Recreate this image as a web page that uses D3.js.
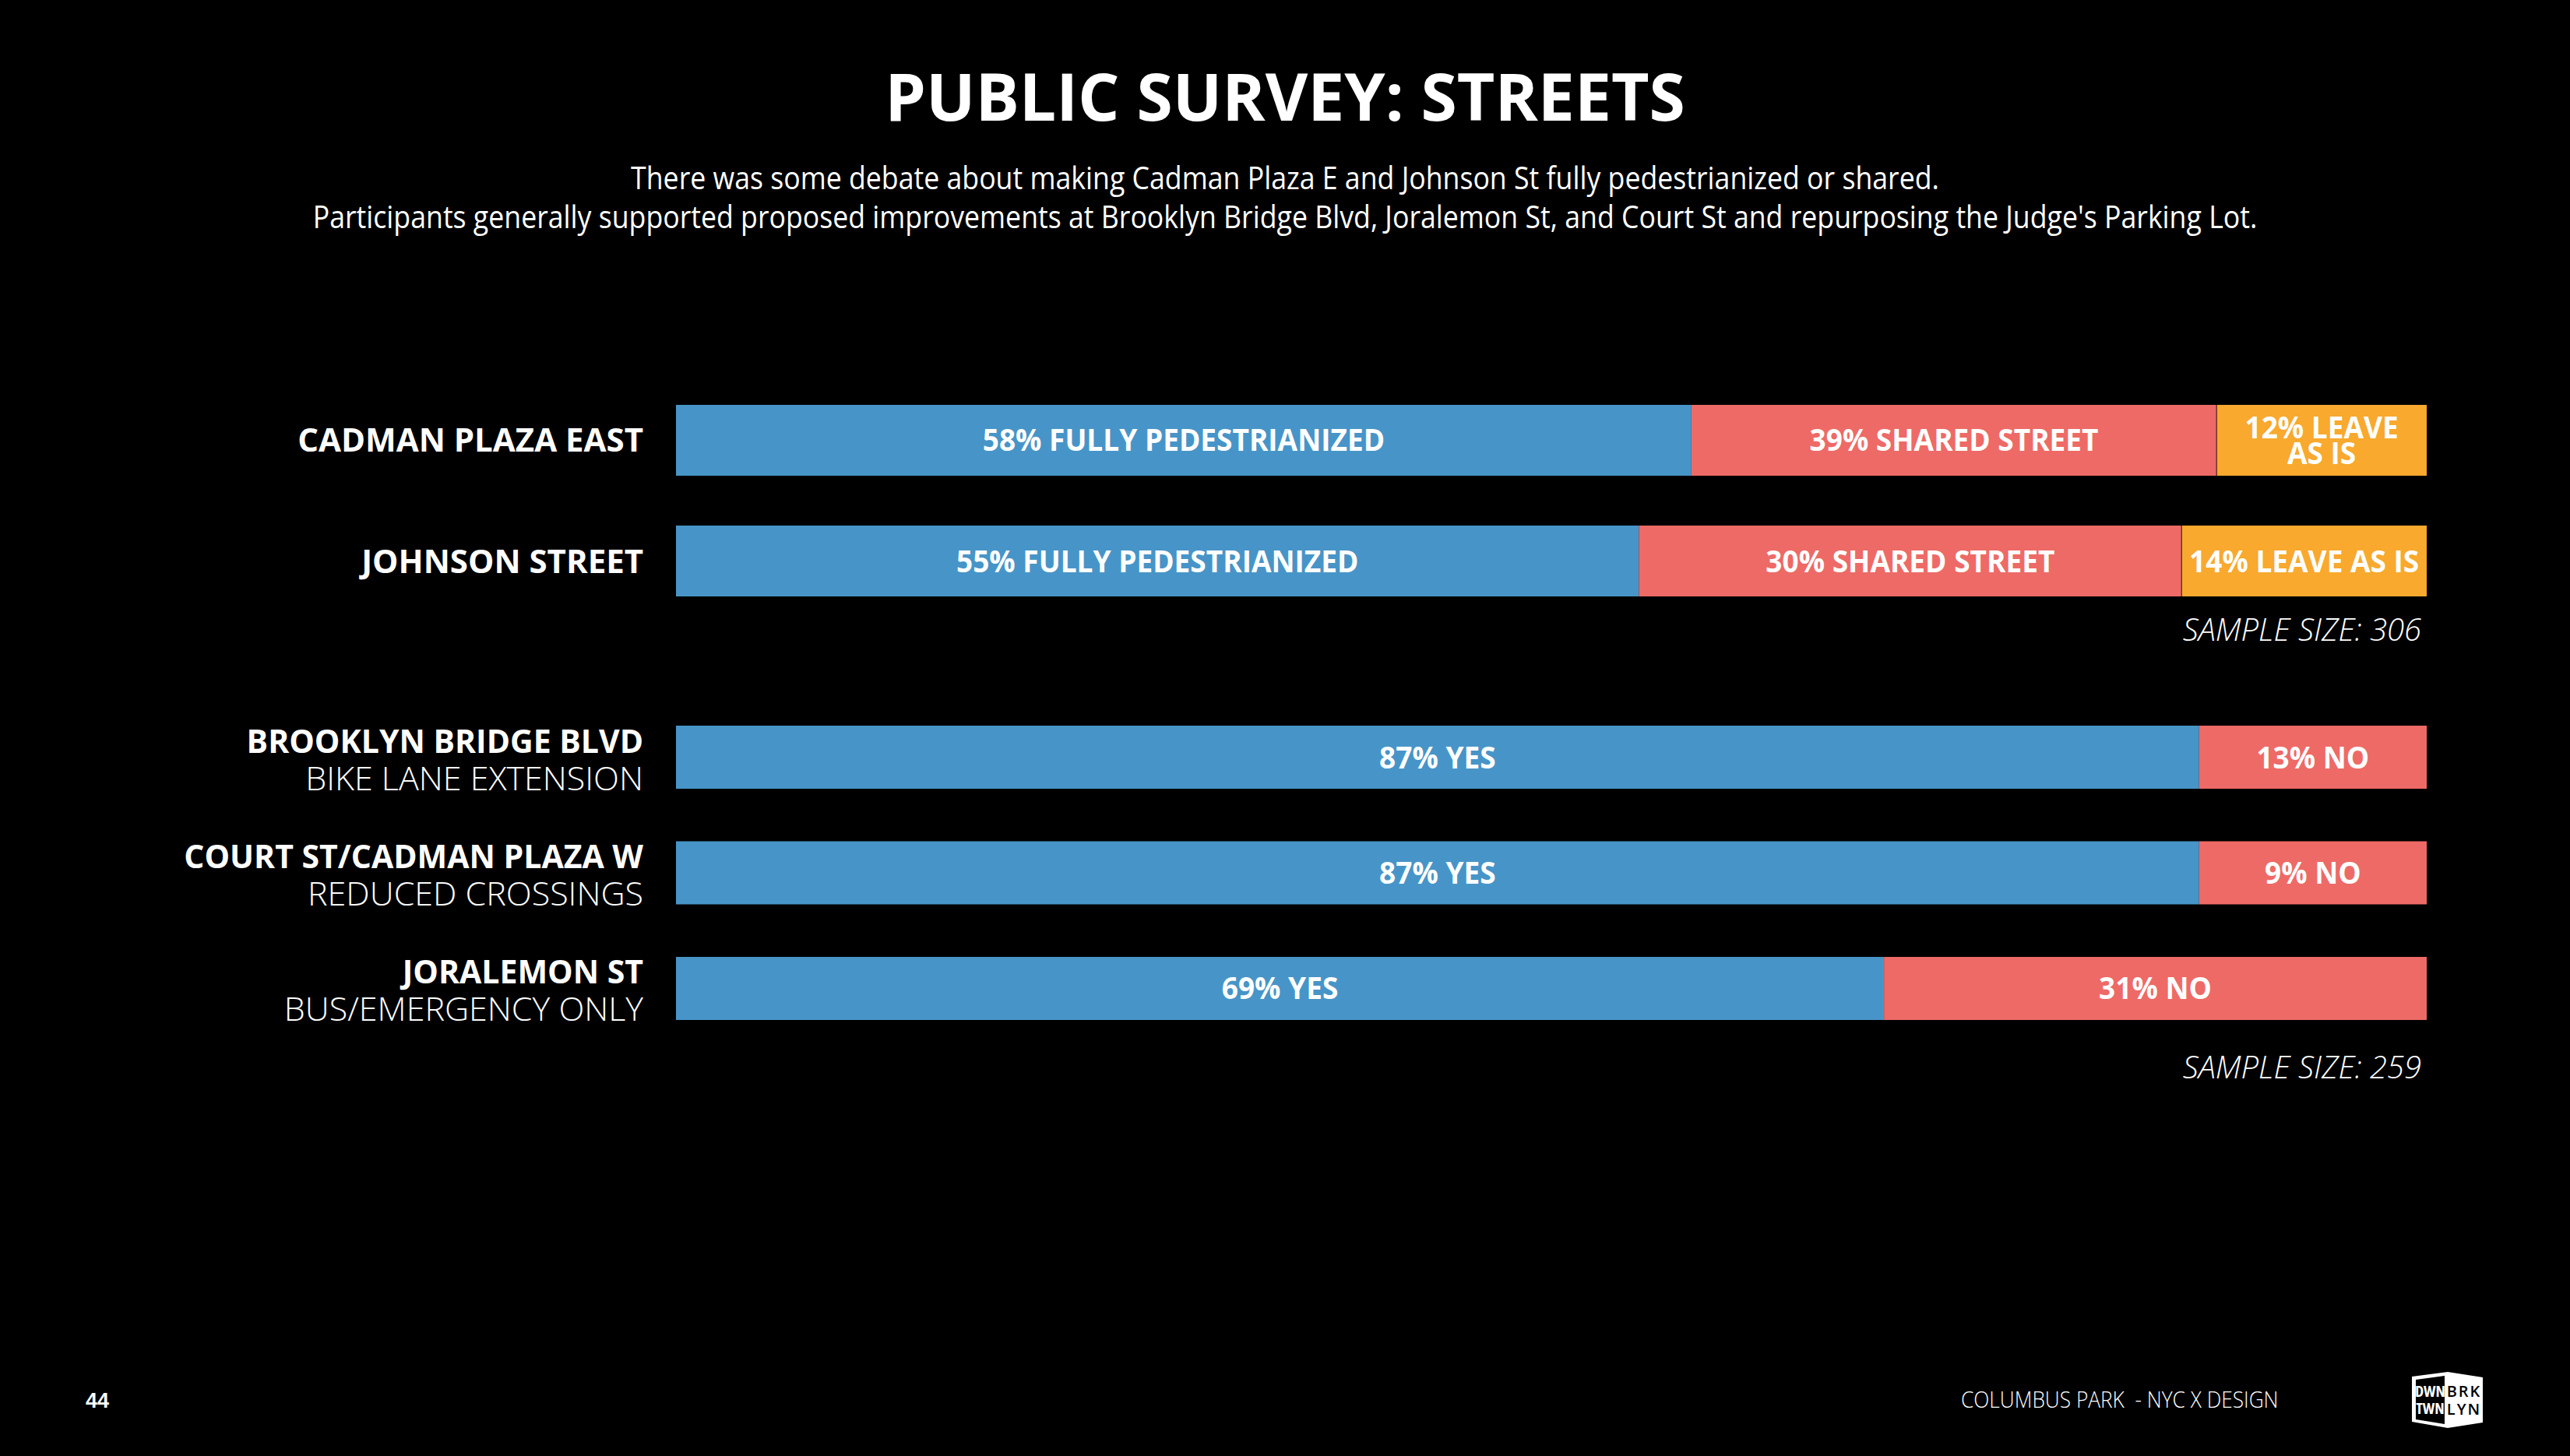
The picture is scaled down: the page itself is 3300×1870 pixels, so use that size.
<!DOCTYPE html>
<html>
<head>
<meta charset="utf-8">
<script src="https://cdn.jsdelivr.net/npm/d3@7"></script>
<style>
  body { margin: 0; background: #000; }
  text { font-family: "Open Sans", sans-serif; fill: #fff; }
</style>
</head>
<body>
<div id="chart"></div>
<script>
// survey answers, as printed on the slide
const streetRows = ["CADMAN PLAZA EAST", "JOHNSON STREET"];
const streetOptions = ["FULLY PEDESTRIANIZED", "SHARED STREET", "LEAVE AS IS"];
const streetValues = [[58, 39, 12], [55, 30, 14]];

const projectRows = ["BROOKLYN BRIDGE BLVD", "COURT ST/CADMAN PLAZA W", "JORALEMON ST"];
const projectSubs = ["BIKE LANE EXTENSION", "REDUCED CROSSINGS", "BUS/EMERGENCY ONLY"];
const projectOptions = ["YES", "NO"];
const projectValues = [[87, 13], [87, 9], [69, 31]];

const sampleSizes = [306, 259];
const segmentColors = ["#4795C8", "#EE6A66", "#F8A92E"];

const W = 3300, H = 1870;

const svg = d3.select("#chart").append("svg")
  .attr("width", W)
  .attr("height", H)
  .style("background", "#000");

const x = d3.scaleLinear().domain([0, 100]).range([868, 3116]);

// horizontally squeezed text (the slide font is narrower than Open Sans)
function narrowText(parent, tx, ty, sx) {
  return parent.append("text")
    .attr("transform", `translate(${tx},${ty}) scale(${sx},1)`);
}

// title + subtitle
svg.append("text")
  .attr("x", W / 2).attr("y", 155)
  .attr("text-anchor", "middle")
  .style("font-size", "84px").style("font-weight", 700)
  .text("PUBLIC SURVEY: STREETS");

const subLines = [
  "There was some debate about making Cadman Plaza E and Johnson St fully pedestrianized or shared.",
  "Participants generally supported proposed improvements at Brooklyn Bridge Blvd, Joralemon St, and Court St and repurposing the Judge's Parking Lot."
];
subLines.forEach((s, i) => {
  narrowText(svg, W / 2, 243 + i * 50, 0.892)
    .attr("text-anchor", "middle")
    .style("font-size", "40px").style("font-weight", 400)
    .text(s);
});

// the printed figures don't always add to 100, so the second segment
// takes whatever is left of the bar
function layout(vals) {
  const segs = vals.map(v => ({ v }));
  segs[0].x0 = 0; segs[0].x1 = vals[0];
  let right = 100;
  for (let i = vals.length - 1; i >= 2; i--) {
    segs[i].x1 = right; segs[i].x0 = right - vals[i]; right = segs[i].x0;
  }
  segs[1].x0 = vals[0]; segs[1].x1 = right;
  return segs;
}

const labelScale = 0.95;

function drawGroup(rows, subs, options, values, yRange, pad, sample, sampleGap) {
  const y = d3.scaleBand().domain(d3.range(rows.length)).range(yRange).paddingInner(pad);
  const g = svg.append("g");

  rows.forEach((name, r) => {
    const cy = y(r) + y.bandwidth() / 2;
    const segs = layout(values[r]);

    g.selectAll(null).data(segs).enter().append("rect")
      .attr("x", d => x(d.x0))
      .attr("y", y(r))
      .attr("width", d => x(d.x1) - x(d.x0))
      .attr("height", y.bandwidth())
      .attr("fill", (d, i) => segmentColors[i]);

    // thin dark seam in front of the third segment
    segs.forEach((d, i) => {
      if (i < 2) return;
      g.append("line")
        .attr("x1", x(d.x0)).attr("x2", x(d.x0))
        .attr("y1", y(r)).attr("y2", y(r) + y.bandwidth())
        .attr("stroke", "#6b3524").attr("stroke-width", 1.5);
    });

    // segment labels, split over two balanced lines when too wide
    segs.forEach((d, i) => {
      const cx = (x(d.x0) + x(d.x1)) / 2;
      const maxW = (x(d.x1) - x(d.x0) - 12) / labelScale;
      const label = d.v + "% " + options[i];
      const measure = g.append("text")
        .style("font-size", "39px").style("font-weight", 700);
      const width = s => { measure.text(s); return measure.node().getComputedTextLength(); };

      let lines = [label];
      if (width(label) > maxW) {
        const words = label.split(" ");
        let best = null;
        for (let k = 1; k < words.length; k++) {
          const a = words.slice(0, k).join(" "), b = words.slice(k).join(" ");
          const m = Math.max(width(a), width(b));
          if (!best || m < best.m) best = { m, lines: [a, b] };
        }
        if (best) lines = best.lines;
      }
      measure.remove();

      const t = narrowText(g, cx, cy + 14 - (lines.length - 1) * 33 / 2, labelScale)
        .attr("text-anchor", "middle")
        .style("font-size", "39px").style("font-weight", 700);
      lines.forEach((l, k) => {
        t.append("tspan").attr("x", 0).attr("dy", k ? 33 : 0).text(l);
      });
    });

    // row labels
    if (subs) {
      g.append("text")
        .attr("x", 826).attr("y", cy - 6)
        .attr("text-anchor", "end")
        .style("font-size", "41px").style("font-weight", 700)
        .text(name);
      g.append("text")
        .attr("x", 826).attr("y", cy + 42)
        .attr("text-anchor", "end")
        .style("font-size", "43px").style("font-weight", 300)
        .text(subs[r]);
    } else {
      g.append("text")
        .attr("x", 826).attr("y", cy + 15)
        .attr("text-anchor", "end")
        .style("font-size", "42px").style("font-weight", 700)
        .text(name);
    }
  });

  g.append("text")
    .attr("x", 3109).attr("y", yRange[1] + sampleGap)
    .attr("text-anchor", "end")
    .style("font-size", "40px").style("font-weight", 300).style("font-style", "italic")
    .text("SAMPLE SIZE: " + sample);
}

drawGroup(streetRows, null, streetOptions, streetValues, [520, 766], 0.413, sampleSizes[0], 57);
drawGroup(projectRows, projectSubs, projectOptions, projectValues, [932, 1310], 0.4545, sampleSizes[1], 75);

// footer
svg.append("text")
  .attr("x", 110).attr("y", 1808)
  .style("font-family", "Liberation Sans").style("font-size", "27px").style("font-weight", 700)
  .text("44");

narrowText(svg, 2518, 1808, 0.906)
  .style("font-size", "29px").style("font-weight", 300)
  .style("white-space", "pre")
  .text("COLUMBUS PARK  - NYC X DESIGN");

// DWNTWN BRKLYN logo
const logo = svg.append("g").attr("transform", "translate(3097,1762)");
logo.append("polygon")
  .attr("points", "0,6 46,0 91,7 91,65 46,72 0,64")
  .attr("fill", "#fff");
logo.append("polygon")
  .attr("points", "5,10 42,5 42,67 5,61")
  .attr("fill", "#000");
[["DWN", 32], ["TWN", 54]].forEach(([s, yy]) => {
  logo.append("text").attr("x", 23.5).attr("y", yy).attr("text-anchor", "middle")
    .style("font-size", "20px").style("font-weight", 700).style("font-stretch", "75%")
    .text(s);
});
[["BRK", 32], ["LYN", 55]].forEach(([s, yy]) => {
  logo.append("text").attr("x", 67).attr("y", yy).attr("text-anchor", "middle")
    .style("font-size", "20px").style("font-weight", 600).style("letter-spacing", "2px")
    .style("fill", "#000")
    .text(s);
});
</script>
</body>
</html>
